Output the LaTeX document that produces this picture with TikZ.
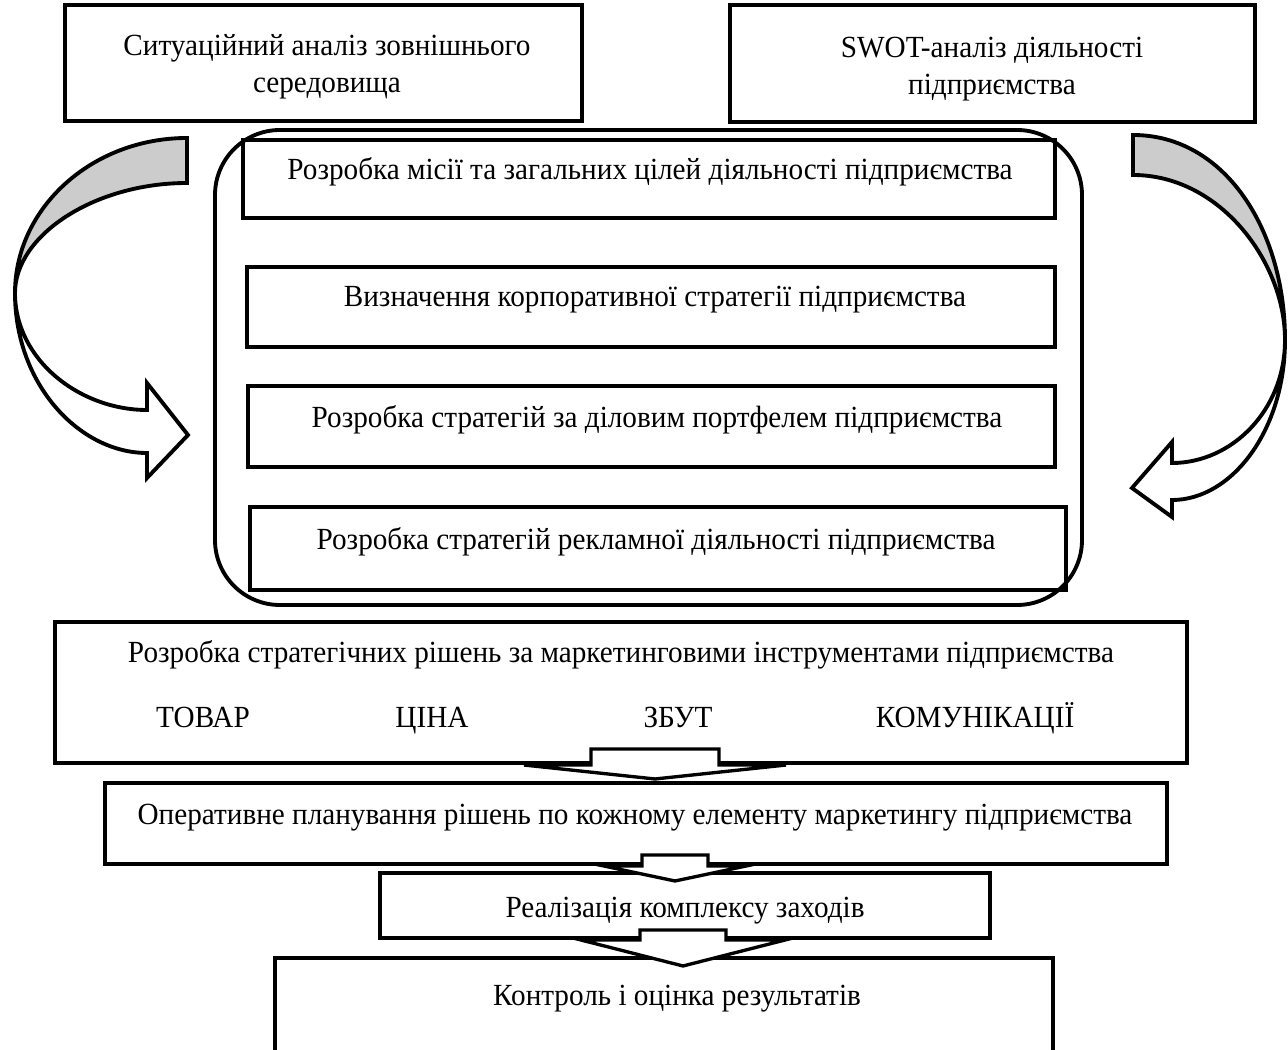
\documentclass[tikz,border=0pt]{standalone}
\usepackage{fontspec}
\setmainfont{Liberation Serif}[FakeStretch=0.95]
\usetikzlibrary{fit,calc}

\tikzset{
  box/.style={draw, line width=2.3pt, inner sep=0pt},
  txt/.style={inner sep=0pt, anchor=base, align=center},
  blockline/.style={draw, fill=white, line width=1.9pt, line join=miter},
  bandline/.style={draw, line width=2.2pt, line join=miter}
}

% from node #1 down to node #2: centre x #3, stem half #4, wing half #5, stem height #6, apex drop #7
\newcommand{\blockarr}[7]{%
  \coordinate (ctr) at (#3,0);
  \draw[blockline] ($(ctr |- #1.south)+(-#4,0)$) -- ++(0,-#6) -- ++(2*#4,0) -- ++(0,#6)
    -- ++(#5-#4,0) -- ($(ctr |- #2.north)+(0,#7)$) -- ($(ctr |- #1.south)+(-#5,0)$) -- cycle;}

\begin{document}
\begin{tikzpicture}[x=0.02cm, y=-0.02cm, font=\fontsize{17.5}{21.5}\selectfont]
\useasboundingbox[fill=white] (0,0) rectangle (1288,1050);

\path[bandline, fill=black!20] (187,138) .. controls (92,138) and (15,208) .. (15,293)
  .. controls (15,235) and (95,183) .. (187,183) -- cycle;
\path[bandline, fill=white] (15,293) .. controls (15,385) and (80,453) .. (147,453) -- (147,478) -- (188,435)
  -- (147,383) -- (147,410) .. controls (80,410) and (15,360) .. (15,293) -- cycle;
\path[bandline, fill=black!20] (1133,135) .. controls (1225,135) and (1285,230) .. (1285,340)
  .. controls (1285,262) and (1220,175) .. (1133,175) -- cycle;
\path[bandline, fill=white] (1285,340) .. controls (1285,430) and (1232,500) .. (1172,500) -- (1172,517) -- (1132,488)
  -- (1172,442) -- (1172,463) .. controls (1232,463) and (1285,410) .. (1285,340) -- cycle;

\node[box, fit={(65,5) (582,121)}] (situation) {};
\node[txt] (situationtxt) at (327,93) {Ситуаційний аналіз зовнішнього\\середовища};
\node[box, fit={(730,5) (1255,122)}] (swot) {};
\node[txt] (swottxt) at (992,95) {SWOT-аналіз діяльності\\підприємства};

\node[draw, line width=2.2pt, rounded corners=1.3cm, inner sep=0pt, fit={(215,130) (1082,605)}] (frame) {};
\node[box, fit={(243,140) (1055,218)}] (mission) {};
\node[txt] (missiontxt) at (650,180) {Розробка місії та загальних цілей діяльності підприємства};
\node[box, fit={(247,267) (1055,347)}] (corporate) {};
\node[txt] (corporatetxt) at (655,307) {Визначення корпоративної стратегії підприємства};
\node[box, fit={(248,386) (1055,467)}] (portfolio) {};
\node[txt] (portfoliotxt) at (657,428) {Розробка стратегій за діловим портфелем підприємства};
\node[box, fit={(250,507) (1066,590)}] (advert) {};
\node[txt] (adverttxt) at (656,550) {Розробка стратегій рекламної діяльності підприємства};

\node[box, fit={(55,622) (1187,763)}] (mkt) {};
\node[txt] (mkttxt) at (621,662) {Розробка стратегічних рішень за маркетинговими інструментами підприємства};
\node[txt] (tovar) at (203,727) {ТОВАР};
\node[txt] (tsina) at (432,727) {ЦІНА};
\node[txt] (zbut) at (678,727) {ЗБУТ};
\node[txt] (komun) at (975,727) {КОМУНІКАЦІЇ};

\node[box, fit={(105,783) (1167,864)}] (oper) {};
\node[txt] (opertxt) at (635,824) {Оперативне планування рішень по кожному елементу маркетингу підприємства};
\node[box, fit={(380,873) (990,938)}] (real) {};
\node[txt] (realtxt) at (685,917) {Реалізація комплексу заходів};
\node[box, fit={(275,958) (1053,1075)}] (control) {};
\node[txt] (controltxt) at (677,1005) {Контроль і оцінка результатів};

\blockarr{mkt}{oper}{655}{64}{131}{16}{-2}
\blockarr{oper}{real}{675}{33}{71}{11}{10}
\blockarr{real}{control}{683}{43}{102}{10}{10}
\end{tikzpicture}
\end{document}
